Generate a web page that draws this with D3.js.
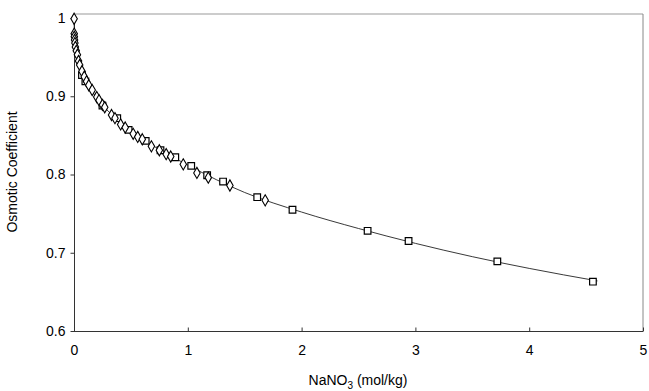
<!DOCTYPE html>
<html><head><meta charset="utf-8">
<script src="https://cdn.jsdelivr.net/npm/d3@7"></script>
<style>body{margin:0;background:#fff}svg{display:block}text{font-family:"Liberation Sans",Arial,sans-serif;fill:#000}</style>
</head><body>
<script>
const diamondData = [[0.001,0.999],[0.002,0.980],[0.003,0.976],[0.005,0.972],[0.008,0.968],[0.012,0.963],[0.02,0.958],[0.03,0.953],[0.04,0.945],[0.05,0.940],[0.07,0.932],[0.09,0.925],[0.11,0.919],[0.13,0.914],[0.16,0.908],[0.2,0.899],[0.22,0.895],[0.25,0.889],[0.27,0.886],[0.33,0.876],[0.36,0.872],[0.41,0.864],[0.45,0.860],[0.52,0.852],[0.56,0.848],[0.6,0.845],[0.68,0.836],[0.75,0.831],[0.81,0.826],[0.85,0.823],[0.96,0.813],[1.08,0.802],[1.18,0.796],[1.37,0.786],[1.68,0.767]];
const squareData = [[0.07,0.927],[0.1,0.919],[0.25,0.888],[0.38,0.872],[0.48,0.857],[0.63,0.843],[0.76,0.831],[0.89,0.822],[1.03,0.811],[1.17,0.799],[1.31,0.791],[1.61,0.771],[1.92,0.755],[2.58,0.728],[2.94,0.715],[3.72,0.689],[4.56,0.663]];
const curveM   = [0, 0.005, 0.01, 0.02, 0.05, 0.1, 0.2, 0.3, 0.5, 0.75, 1.0, 1.5, 2.0, 2.5, 3.0, 3.5, 4.0, 4.6];
const curvePhi = [1.0, 0.975, 0.967, 0.957, 0.938, 0.921, 0.898, 0.881, 0.855, 0.832, 0.812, 0.777, 0.752, 0.731, 0.712, 0.695, 0.680, 0.664];
const xTicks = [0,1,2,3,4,5];
const yTicks = [0.6,0.7,0.8,0.9,1];

const W=649,H=391;
const svg=d3.select("body").append("svg").attr("width",W).attr("height",H);
const x=d3.scaleLinear().domain([0,5]).range([74,643]);
const y=d3.scaleLinear().domain([0.6,1]).range([331,18]);
const frameTop=14;

// frame
svg.append("line").attr("x1",74).attr("x2",643).attr("y1",frameTop).attr("y2",frameTop).attr("stroke","#999").attr("stroke-width",1);
svg.append("line").attr("x1",643).attr("x2",643).attr("y1",frameTop).attr("y2",331).attr("stroke","#888").attr("stroke-width",1);

// axes
const yAxis=d3.axisLeft(y).tickValues(yTicks).tickFormat(d=>d===1?"1":d3.format(".1f")(d)).tickSize(4).tickPadding(5);
const gy=svg.append("g").attr("transform","translate(74.5,0)").call(yAxis);
gy.select(".domain").attr("d",`M0,${frameTop}V331.5`).attr("stroke","#333");
const xAxis=d3.axisBottom(x).tickValues(xTicks).tickSize(-4).tickPadding(14).tickFormat(d3.format("d"));
const gx=svg.append("g").attr("transform","translate(0,331.5)").call(xAxis);
gx.select(".domain").attr("d","M74,0H643").attr("stroke","#333");
svg.selectAll(".tick text").style("font-size","14px").style("font-family","'Liberation Sans',Arial,sans-serif").attr("fill","#000");
svg.selectAll(".tick line").attr("stroke","#333");

// curve
const curvePts=curveM.map((m,i)=>[m,curvePhi[i]]);
svg.append("path").datum(curvePts)
  .attr("d",d3.line().x(d=>x(d[0])).y(d=>y(d[1])).curve(d3.curveMonotoneX))
  .attr("fill","none").attr("stroke","#222").attr("stroke-width",0.9);

// squares
svg.append("g").selectAll("path").data(squareData).join("path")
  .attr("d",d3.symbol(d3.symbolSquare,44))
  .attr("transform",d=>`translate(${x(d[0])},${y(d[1])})`)
  .attr("fill","#fff").attr("stroke","#000").attr("stroke-width",1.2);
// diamonds
svg.append("g").selectAll("path").data(diamondData).join("path")
  .attr("d",d3.symbol(d3.symbolDiamond,36))
  .attr("transform",d=>`translate(${x(d[0])},${y(d[1])})`)
  .attr("fill","#fff").attr("stroke","#000").attr("stroke-width",1.1);

// titles
svg.append("text").attr("transform","translate(17,172) rotate(-90)").attr("text-anchor","middle").style("font-size","14px").text("Osmotic Coefficient");
const xt=svg.append("text").attr("x",358).attr("y",385).attr("text-anchor","middle").style("font-size","14px");
xt.append("tspan").text("NaNO");
xt.append("tspan").attr("dy",4).style("font-size","10px").text("3");
xt.append("tspan").attr("dy",-4).text(" (mol/kg)");
</script>
</body></html>
